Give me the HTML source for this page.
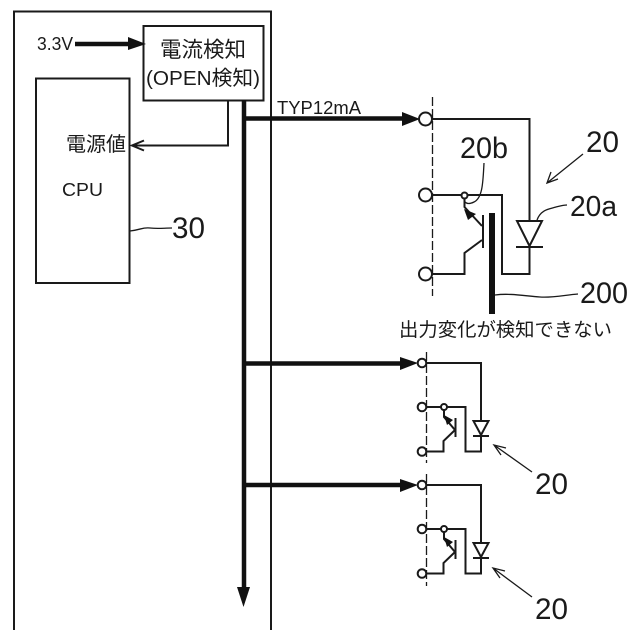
<!DOCTYPE html>
<html>
<head>
<meta charset="utf-8">
<style>
html,body{margin:0;padding:0;background:#fff}
svg{display:block}
text{font-family:"Liberation Sans","Noto Sans CJK JP",sans-serif;fill:#1a1a1a}
.l{stroke:#1a1a1a;fill:none;stroke-width:2}
.t{stroke:#1a1a1a;fill:none;stroke-width:1.3}
.b{stroke:#111;fill:none;stroke-width:4.5}
.c{stroke:#1a1a1a;fill:#fff;stroke-width:2}
.h{fill:#111;stroke:none}
</style>
</head>
<body>
<svg width="640" height="640" viewBox="0 0 640 640" xmlns="http://www.w3.org/2000/svg">
<rect width="640" height="640" fill="#fff"/>
<!-- frame -->
<path class="l" d="M14 630V11.500H271V630"/>
<rect class="l" x="143.500" y="26" width="120" height="74.500"/>
<rect class="l" x="36" y="78.500" width="93.500" height="204.500"/>
<!-- labels left -->
<text x="37" y="50" font-size="18" textLength="36" lengthAdjust="spacingAndGlyphs">3.3V</text>
<text x="160" y="57" font-size="21.500" textLength="86" lengthAdjust="spacingAndGlyphs">電流検知</text>
<text x="146" y="85" font-size="20.500" textLength="114" lengthAdjust="spacingAndGlyphs">(OPEN検知)</text>
<text x="66" y="151" font-size="20" textLength="60" lengthAdjust="spacingAndGlyphs">電源値</text>
<text x="62" y="196" font-size="18" textLength="41" lengthAdjust="spacingAndGlyphs">CPU</text>
<text x="172" y="238" font-size="30" textLength="33" lengthAdjust="spacingAndGlyphs">30</text>
<text x="277" y="114" font-size="18" textLength="84" lengthAdjust="spacingAndGlyphs">TYP12mA</text>
<path class="t" d="M130 231C140 230 143 227 150 228C158 229 164 228 172 228"/>
<!-- 3.3V arrow -->
<path class="b" d="M75 44H132"/>
<path class="h" d="M128 37L146 44L128 50Z"/>
<!-- sense line -->
<path class="l" d="M228 101V145.500H132"/>
<path class="l" d="M144 140.500L132 145.500L144 150.500"/>
<!-- bus -->
<path class="b" d="M244 100V592"/>
<path class="h" d="M237 587H250L243.500 607Z"/>
<path class="b" d="M244 118.500H405"/>
<path class="h" d="M402 112L420 119L402 126Z"/>
<path class="b" d="M244 363.500H403"/>
<path class="h" d="M400 357L418 363L400 370Z"/>
<path class="b" d="M244 485H403"/>
<path class="h" d="M400 479L418 485L400 492Z"/>
<!-- dashed -->
<path class="t" stroke-dasharray="9 3" d="M432.500 97V296"/>
<path class="t" stroke-dasharray="9 3" d="M426.500 352V463"/>
<path class="t" stroke-dasharray="9 3" d="M426.500 474V586"/>
<!-- top opto -->
<path class="l" d="M432 119H529.500V221"/>
<path class="l" d="M517 221H542L529.500 246Z"/>
<path class="l" d="M516 247H543M529.500 247V274H502V195H431"/>
<path class="l" d="M464.500 198V207L482 226M483 215V248M482 240L464.500 253V274H431"/>
<path class="h" d="M464 209L476 214L468 220Z"/>
<circle class="c" cx="425.500" cy="119" r="6.500"/>
<circle class="c" cx="425.500" cy="195" r="6.500"/>
<circle class="c" cx="425.500" cy="274" r="6.500"/>
<circle class="c" cx="464.500" cy="195.500" r="3"/>
<rect class="h" x="489" y="213" width="6" height="101"/>
<text x="586" y="152" font-size="30" textLength="33" lengthAdjust="spacingAndGlyphs">20</text>
<text x="460" y="158" font-size="30" textLength="48" lengthAdjust="spacingAndGlyphs">20b</text>
<text x="570" y="216" font-size="29" textLength="47" lengthAdjust="spacingAndGlyphs">20a</text>
<text x="580" y="303" font-size="30" textLength="48" lengthAdjust="spacingAndGlyphs">200</text>
<text x="399" y="336" font-size="19" textLength="213" lengthAdjust="spacingAndGlyphs">出力変化が検知できない</text>
<path class="t" d="M583 154L547 183M558 179L547 183L551 172"/>
<path class="t" d="M484 163C483 180 483 198 474 202C470 204 467 204 465 202"/>
<path class="t" d="M537 220C541 209 550 209 556 207C560 206 563 205 567 205"/>
<path class="t" d="M495 295C510 293 525 296 540 297C552 298 565 295 578 294"/>
<!-- middle opto -->
<g>
<path class="l" d="M426 363H481V421"/>
<path class="l" d="M473.500 421H488.500L481 435Z"/>
<path class="l" d="M473 436H489M481 436V451.500H465.500V407H427"/>
<path class="l" d="M444 410V417L455 430M455.500 418V437M455 430L443.500 441V451.500H427"/>
<path class="h" d="M444 415L453 420L447 425Z"/>
<circle class="c" cx="422" cy="363" r="4.300"/>
<circle class="c" cx="422" cy="407" r="4.300"/>
<circle class="c" cx="422" cy="451.500" r="4.300"/>
<circle class="c" cx="444" cy="407" r="3"/>
</g>
<path class="t" d="M532 472L494 445M506 448L494 445L501 455"/>
<text x="535" y="494" font-size="30" textLength="33" lengthAdjust="spacingAndGlyphs">20</text>
<!-- bottom opto -->
<g transform="translate(0 122)">
<path class="l" d="M426 363H481V421"/>
<path class="l" d="M473.500 421H488.500L481 435Z"/>
<path class="l" d="M473 436H489M481 436V451.500H465.500V407H427"/>
<path class="l" d="M444 410V417L455 430M455.500 418V437M455 430L443.500 441V451.500H427"/>
<path class="h" d="M444 415L453 420L447 425Z"/>
<circle class="c" cx="422" cy="363" r="4.300"/>
<circle class="c" cx="422" cy="407" r="4.300"/>
<circle class="c" cx="422" cy="451.500" r="4.300"/>
<circle class="c" cx="444" cy="407" r="3"/>
</g>
<path class="t" d="M532 597L493 568M505 571L493 568L500 578"/>
<text x="535" y="619" font-size="30" textLength="33" lengthAdjust="spacingAndGlyphs">20</text>
</svg>
</body>
</html>
